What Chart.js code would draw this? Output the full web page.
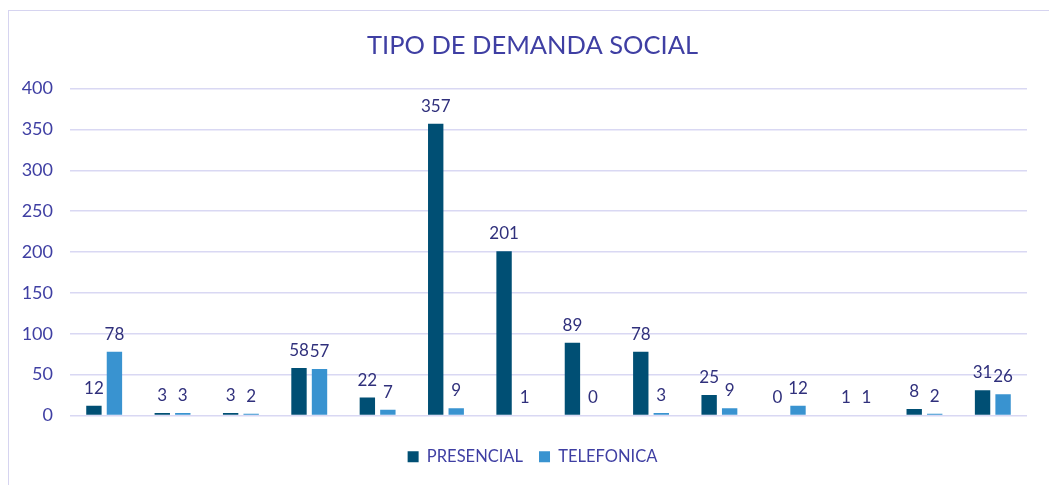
<!DOCTYPE html>
<html>
<head>
<meta charset="utf-8">
<script src="https://cdn.jsdelivr.net/npm/chart.js@4"></script>
<style>
  html, body { margin: 0; padding: 0; background: #fff; }
  #wrap { position: relative; width: 1049px; height: 485px; overflow: hidden; }
  #frame { position: absolute; left: 8px; top: 10px; width: 1100px; height: 520px; border: 1px solid #d6d4f0; box-sizing: border-box; }
  canvas { position: absolute; left: 0; top: 0; }
</style>
</head>
<body>
<div id="wrap">
  <div id="frame"></div>
  <canvas id="chart" width="1049" height="485"></canvas>
</div>
<script>
var categories = ['1', '2', '3', '4', '5', '6', '7', '8', '9', '10', '11', '12', '13', '14'];
var presencial = [12, 3, 3, 58, 22, 357, 201, 89, 78, 25, 0, 1, 8, 31];
var telefonica = [78, 3, 2, 57, 7, 9, 1, 0, 3, 9, 12, 1, 2, 26];
var yTicks = [0, 50, 100, 150, 200, 250, 300, 350, 400];

var textColor = '#3f3fa3';
var labelColor = '#30307c';

// value labels above each bar
var barLabels = {
  id: 'barLabels',
  afterDatasetsDraw: function (chart) {
    var ctx = chart.ctx;
    ctx.save();
    ctx.font = '17px Lato';
    ctx.fillStyle = labelColor;
    ctx.textAlign = 'center';
    ctx.textBaseline = 'bottom';
    chart.data.datasets.forEach(function (ds, i) {
      chart.getDatasetMeta(i).data.forEach(function (bar, j) {
        var p = bar.getProps(['x', 'y'], true);
        ctx.fillText(ds.data[j], p.x, p.y - 9);
      });
    });
    ctx.restore();
  }
};

// y tick labels, drawn outside the narrow axis box
var yLabels = {
  id: 'yLabels',
  afterDraw: function (chart) {
    var ctx = chart.ctx, y = chart.scales.y;
    ctx.save();
    ctx.font = '18px Lato';
    ctx.fillStyle = textColor;
    ctx.textAlign = 'right';
    ctx.textBaseline = 'middle';
    y.ticks.forEach(function (t) {
      ctx.fillText(t.value, chart.chartArea.left - 17, y.getPixelForValue(t.value));
    });
    ctx.restore();
  }
};

new Chart(document.getElementById('chart'), {
  type: 'bar',
  data: {
    labels: categories,
    datasets: [
      { label: 'PRESENCIAL', data: presencial, backgroundColor: '#004f74' },
      { label: 'TELEFONICA', data: telefonica, backgroundColor: '#3993d0' }
    ]
  },
  options: {
    responsive: false,
    animation: false,
    layout: { padding: { left: 38, right: 22, top: 10, bottom: 10 } },
    datasets: { bar: { categoryPercentage: 0.6, barPercentage: 0.75 } },
    plugins: {
      title: {
        display: true,
        text: 'TIPO DE DEMANDA SOCIAL',
        color: textColor,
        font: { family: 'Lato', size: 25.5, weight: 'normal' },
        padding: { top: 20, bottom: 28 }
      },
      legend: {
        position: 'bottom',
        labels: {
          color: textColor,
          font: { family: 'Lato', size: 16.5 },
          boxWidth: 11,
          boxHeight: 11,
          padding: 16
        }
      },
      tooltip: { enabled: false }
    },
    scales: {
      x: {
        afterFit: function (s) { s.height = 17; },
        ticks: { display: false },
        grid: { display: false },
        border: { display: false }
      },
      y: {
        min: 0,
        max: 400,
        afterBuildTicks: function (s) { s.ticks = yTicks.map(function (v) { return { value: v }; }); },
        afterFit: function (s) { s.width = 32; },
        ticks: { display: false },
        grid: { color: '#d9d8f3', lineWidth: 1.5, drawTicks: false },
        border: { display: false }
      }
    }
  },
  plugins: [barLabels, yLabels]
});
</script>
</body>
</html>
